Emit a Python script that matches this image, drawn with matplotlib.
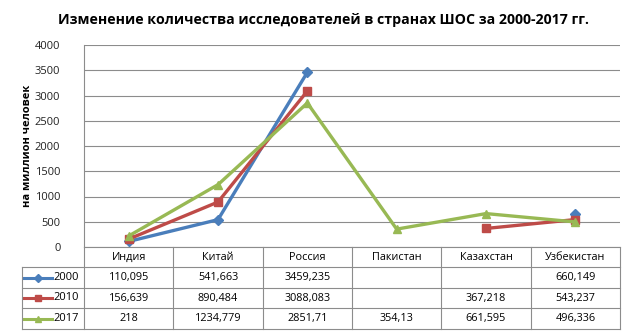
import numpy as np
import matplotlib
matplotlib.use('Agg')
from matplotlib import pyplot as plt
from matplotlib.transforms import blended_transform_factory

countries = ['Индия', 'Китай', 'Россия', 'Пакистан', 'Казахстан', 'Узбекистан']
years = ['2000', '2010', '2017']
v2000 = [110.095, 541.663, 3459.235, np.nan, np.nan, 660.149]
v2010 = [156.639, 890.484, 3088.083, np.nan, 367.218, 543.237]
v2017 = [218, 1234.779, 2851.71, 354.13, 661.595, 496.336]

series = [v2000, v2010, v2017]
colors = ['#4a7ebb', '#be4b48', '#98b954']
markers = ['D', 's', '^']
msizes = [5, 6, 6]

plt.rcParams['font.family'] = ['Open Sans', 'DejaVu Sans']

W, H = 635, 336
fig = plt.figure(figsize=(W / 100, H / 100), dpi=100)
# plot area in pixels: x 84..620, y 45..247
ax = fig.add_axes([84 / W, (H - 247) / H, 536 / W, 202 / H])

x = np.arange(len(countries))
for vals, c, m, ms in zip(series, colors, markers, msizes):
    ax.plot(x, vals, color=c, lw=2.4, marker=m, ms=ms, mfc=c, mec=c, clip_on=False, zorder=3)

ax.set_xlim(-0.5, len(countries) - 0.5)
ax.set_ylim(0, 4000)
ax.set_yticks(np.arange(0, 4001, 500))
ax.yaxis.grid(True, color='#8c8c8c', lw=0.8)
ax.set_axisbelow(True)
ax.set_xticks([])
ax.tick_params(axis='y', length=0, labelsize=8, pad=17, colors='#222222')
for s in ['top', 'right', 'bottom']:
    ax.spines[s].set_visible(False)
ax.spines['left'].set_color('#8c8c8c')
ax.set_ylabel('на миллион человек', fontsize=8, fontweight='bold', labelpad=1)

fig.text(0.51, 1 - 20 / H, 'Изменение количества исследователей в странах ШОС за 2000-2017 гг.',
         ha='center', va='center', fontsize=10.2, fontweight='bold')

# data table below the axis
tr = blended_transform_factory(ax.transData, ax.transAxes)
def fy(py):
    return (247 - py) / 202.0

rows_y = [247, 267, 288, 308, 329]
lc = '#8c8c8c'
left_x = -0.5 - (84 - 22) / 89.33
# horizontal lines
ax.plot([-0.5, len(countries) - 0.5], [fy(247)] * 2, color=lc, lw=0.8, transform=tr, clip_on=False)
for py in rows_y[1:]:
    ax.plot([left_x, len(countries) - 0.5], [fy(py)] * 2, color=lc, lw=0.8, transform=tr, clip_on=False)
# vertical lines
for b in np.arange(-0.5, len(countries), 1.0):
    ax.plot([b, b], [fy(247), fy(329)], color=lc, lw=0.8, transform=tr, clip_on=False)
ax.plot([left_x, left_x], [fy(267), fy(329)], color=lc, lw=0.8, transform=tr, clip_on=False)

def fmt(v):
    s = ('%s' % v)
    if '.' in s:
        s = s.rstrip('0').rstrip('.')
    return s.replace('.', ',')

for i, name in enumerate(countries):
    ax.text(i, fy(257), name, ha='center', va='center', fontsize=7.8, transform=tr)

for r, (yr, vals, c, m, ms) in enumerate(zip(years, series, colors, markers, msizes)):
    yc = fy((rows_y[r + 1] + rows_y[r + 2]) / 2)
    lx0 = left_x + 2 / 89.33
    lx1 = left_x + 30 / 89.33
    ax.plot([lx0, lx1], [yc, yc], color=c, lw=2.2, transform=tr, clip_on=False)
    ax.plot([(lx0 + lx1) / 2], [yc], color=c, marker=m, ms=ms - 1, transform=tr, clip_on=False)
    ax.text(left_x + 31 / 89.33, yc, yr, ha='left', va='center', fontsize=8, transform=tr)
    for i, v in enumerate(vals):
        if not np.isnan(v):
            ax.text(i, yc, fmt(v), ha='center', va='center', fontsize=7.8, transform=tr)

plt.savefig('out.png', dpi=100)
